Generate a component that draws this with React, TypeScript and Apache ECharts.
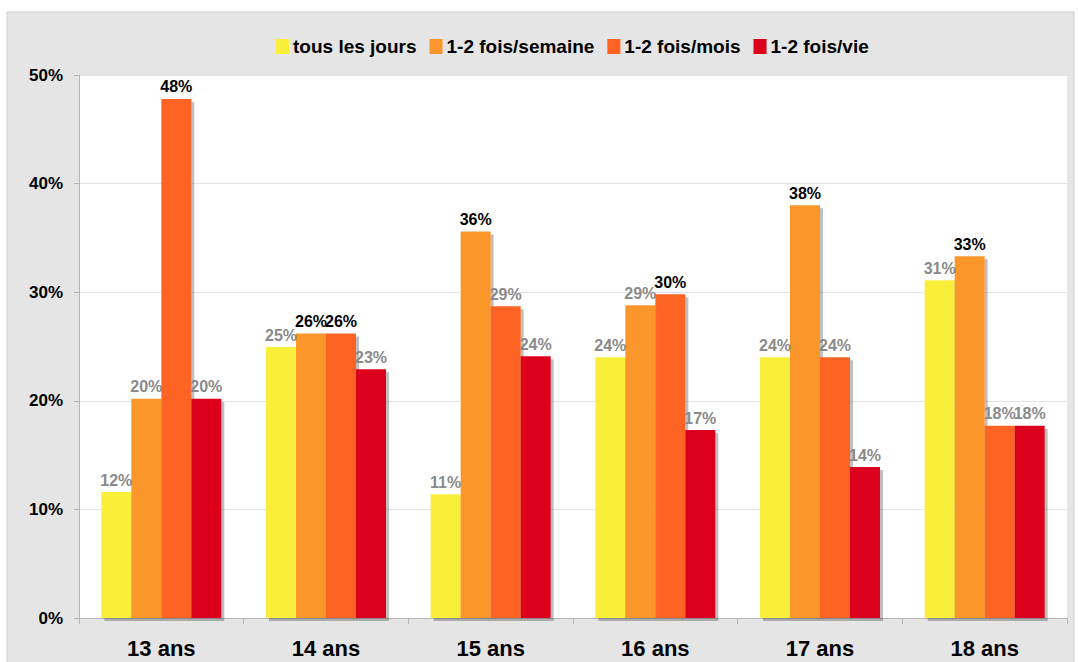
import React, { useEffect, useRef } from "react";
import * as echarts from "echarts";

const categories = ["13 ans", "14 ans", "15 ans", "16 ans", "17 ans", "18 ans"];
const seriesNames = ["tous les jours", "1-2 fois/semaine", "1-2 fois/mois", "1-2 fois/vie"];
const tousLesJours = [11.6, 24.95, 11.4, 24.0, 24.0, 31.1];
const semaine = [20.2, 26.2, 35.6, 28.8, 38.0, 33.3];
const mois = [47.8, 26.2, 28.7, 29.8, 24.0, 17.7];
const vie = [20.2, 22.9, 24.1, 17.3, 13.9, 17.7];
const colors = ["#f9ef3b", "#fa962b", "#fd6421", "#dc001a"];
const yTicks = [0, 10, 20, 30, 40, 50];

export default function App() {
  const ref = useRef<HTMLDivElement>(null);
  useEffect(() => {
    if (!ref.current) return;
    const chart = echarts.init(ref.current, null, { renderer: "svg" });
    const all = [tousLesJours, semaine, mois, vie];
    const maxPerCat = categories.map((_, i) => Math.max(...all.map((s) => s[i])));
    const font = "'Liberation Sans', Arial, sans-serif";
    chart.setOption({
      animation: false,
      backgroundColor: "#ffffff",
      textStyle: { fontFamily: font },
      graphic: [
        {
          type: "rect",
          z: -10,
          silent: true,
          shape: { x: 7, y: 12, width: 1067, height: 660 },
          style: { fill: "#e5e5e5", stroke: "#cfcfcf", lineWidth: 1 },
        },
      ],
      legend: {
        top: 32,
        left: 271,
        itemWidth: 13,
        itemHeight: 15,
        itemGap: 13,
        icon: "rect",
        textStyle: { fontSize: 19, fontWeight: "bold", color: "#000", fontFamily: font, padding: [0, 0, 0, -1] },
        data: seriesNames,
      },
      grid: {
        left: 79,
        top: 75,
        right: 11,
        bottom: 44,
        show: true,
        backgroundColor: "#ffffff",
        borderWidth: 0,
      },
      xAxis: {
        type: "category",
        data: categories,
        axisLine: { lineStyle: { color: "#b5b5b5" } },
        axisTick: { show: true, length: 6, lineStyle: { color: "#b5b5b5" } },
        axisLabel: { fontSize: 22, fontWeight: "bold", color: "#000", margin: 19, fontFamily: font },
      },
      yAxis: {
        type: "value",
        min: yTicks[0],
        max: yTicks[yTicks.length - 1],
        interval: 10,
        axisLine: { show: true, lineStyle: { color: "#b5b5b5" } },
        axisTick: { show: true, length: 5, lineStyle: { color: "#b5b5b5" } },
        splitLine: { lineStyle: { color: "#e4e4e4" } },
        axisLabel: { fontSize: 17, fontWeight: "bold", color: "#000", margin: 16, formatter: "{value}%", fontFamily: font },
      },
      series: all.map((vals, si) => ({
        name: seriesNames[si],
        type: "bar",
        barWidth: 30,
        barGap: "0%",
        itemStyle: {
          color: colors[si],
          shadowColor: "rgba(0,0,0,0.25)",
          shadowOffsetX: 3,
          shadowOffsetY: 3,
          shadowBlur: 0,
        },
        label: {
          show: true,
          position: "top",
          distance: 4,
          fontSize: 16,
          fontWeight: "bold",
          fontFamily: font,
          formatter: (p: any) => Math.round(p.value) + "%",
        },
        data: vals.map((v, i) => ({
          value: v,
          label: { color: v === maxPerCat[i] ? "#000000" : "#8a8a8a" },
        })),
      })),
    });
    return () => chart.dispose();
  }, []);
  return (
    <div
      ref={ref}
      style={{ position: "fixed", left: 0, top: 0, width: 1078, height: 662 }}
    />
  );
}
